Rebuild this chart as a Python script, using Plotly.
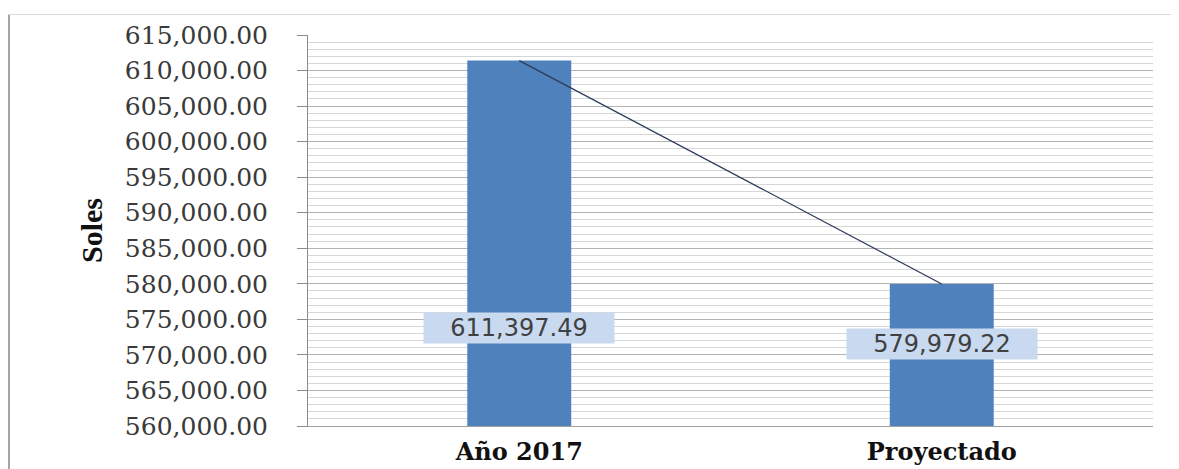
import plotly.graph_objects as go

categories = ["Año 2017", "Proyectado"]
values = [611397.49, 579979.22]
value_labels = ["611,397.49", "579,979.22"]
label_y = [573800, 571500]

y_min, y_max, y_step = 560000, 615000, 5000

# page has an 8px body margin; figure coordinates = page coordinates - 8
OFF = 8
W, H = 1179 - OFF, 469 - OFF
L, R, T, B = 308 - OFF, 26, 35 - OFF, 43
pw = W - L - R
ph = H - T - B

fig = go.Figure()
fig.add_trace(go.Bar(
    x=categories, y=values, width=0.246,
    marker=dict(color="#4f81bd", line=dict(width=0)),
    hoverinfo="skip", showlegend=False,
))
fig.add_trace(go.Scatter(
    x=categories, y=values, mode="lines",
    line=dict(color="#2b3c5a", width=1.2),
    hoverinfo="skip", showlegend=False,
))

for c, t, ly in zip(categories, value_labels, label_y):
    fig.add_annotation(
        x=c, y=ly, xref="x", yref="y", text=t, showarrow=False,
        font=dict(family="DejaVu Sans", size=24, color="#404040"),
        bgcolor="#c9daf0", width=190, height=30, borderpad=0,
    )

def px_x(p):
    return (p - OFF - L) / pw

def px_y(p):
    return (H - B - (p - OFF)) / ph

# y-axis title
fig.add_annotation(
    x=px_x(73), y=0.5, xref="paper", yref="paper", text="Soles",
    textangle=-90, showarrow=False,
    font=dict(family="Liberation Serif", size=30, color="#111111", weight="bold"),
)

# outer frame
fig.add_shape(type="line", xref="paper", yref="paper",
              x0=px_x(8.5), x1=px_x(8.5), y0=px_y(14), y1=px_y(480),
              line=dict(color="#a6a6a6", width=3))
fig.add_shape(type="line", xref="paper", yref="paper",
              x0=px_x(7), x1=px_x(1178), y0=px_y(14.5), y1=px_y(14.5),
              line=dict(color="#d9d9d9", width=1))
fig.add_shape(type="line", xref="paper", yref="paper",
              x0=px_x(1177.5), x1=px_x(1177.5), y0=px_y(14), y1=px_y(480),
              line=dict(color="#d9d9d9", width=1))

fig.update_layout(
    width=W, height=H, autosize=False,
    margin=dict(l=L, r=R, t=T, b=B, pad=0, autoexpand=False),
    paper_bgcolor="white", plot_bgcolor="white",
    showlegend=False,
    xaxis=dict(
        type="category", showgrid=False, zeroline=False, automargin=False,
        showline=True, linecolor="#a0a0a0", linewidth=1,
        ticks="", ticklabelstandoff=4,
        tickfont=dict(family="DejaVu Serif", size=24, color="#111111", weight="bold"),
        fixedrange=True,
    ),
    yaxis=dict(
        range=[y_min, y_max], dtick=y_step, tick0=y_min, automargin=False,
        tickformat=",.2f",
        showline=True, linecolor="#8c8c8c", linewidth=1,
        ticks="outside", ticklen=10, tickcolor="#8c8c8c",
        ticklabelstandoff=24,
        tickfont=dict(family="DejaVu Serif", size=25, color="#3a3a3a"),
        showgrid=True, gridcolor="#b3b3b3", gridwidth=1,
        zeroline=False,
        minor=dict(dtick=1000, showgrid=True, gridcolor="#d6d6d6", gridwidth=1),
        fixedrange=True,
    ),
)

fig.write_html("out.html")
